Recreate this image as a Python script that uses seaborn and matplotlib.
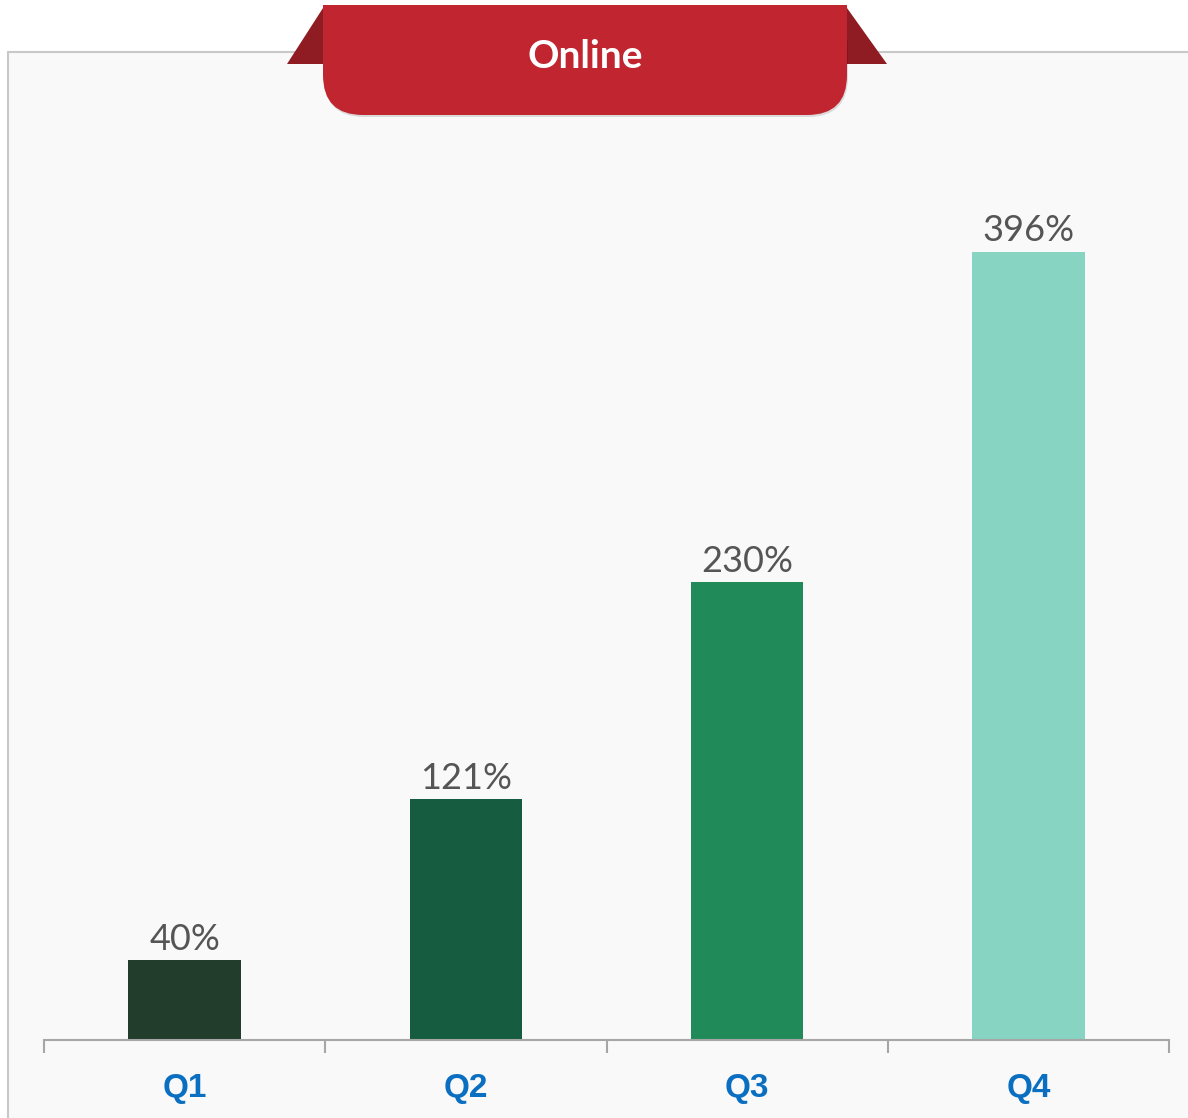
import matplotlib
matplotlib.use("Agg")
import matplotlib.pyplot as plt
import seaborn as sns
from matplotlib.patches import Rectangle, FancyBboxPatch, Polygon

# data
quarters = ["Q1", "Q2", "Q3", "Q4"]
growth = [40, 121, 230, 396]
bar_colors = ["#223d2b", "#165c41", "#208b58", "#87d4c3"]
title = "Online"

W, H = 1188, 1118
sns.set_theme(style="white")
plt.rcParams["font.family"] = ["Lato", "DejaVu Sans"]

fig = plt.figure(figsize=(W / 100, H / 100), dpi=100)
fig.patch.set_facecolor("white")

# decoration layer in pixel coordinates
deco = fig.add_axes([0, 0, 1, 1], zorder=0)
deco.set_xlim(0, W)
deco.set_ylim(H, 0)
deco.axis("off")

# light panel behind the chart
deco.add_patch(Rectangle((8, 52), W, H, facecolor="#f9f9f9",
                         edgecolor="#c8c8c8", linewidth=1.5))

# main bar chart
ax = fig.add_axes([44 / W, (H - 1040) / H, (1169 - 44) / W, 896 / H], zorder=1)
ax.set_facecolor("none")
sns.barplot(x=quarters, y=growth, hue=quarters, palette=bar_colors,
            legend=False, width=0.4, saturation=1, linewidth=0, ax=ax)
ax.set_xlim(-0.5, 3.5)
ax.set_ylim(0, 450)
for cont, val in zip(ax.containers, growth):
    ax.bar_label(cont, labels=[f"{val}%"], padding=3, fontsize=26,
                 color="#555555")

for side in ["top", "right", "left"]:
    ax.spines[side].set_visible(False)
ax.spines["bottom"].set_color("#a6a6a6")
ax.spines["bottom"].set_linewidth(1.5)
ax.set_yticks([])
ax.set_xticks([-0.5, 0.5, 1.5, 2.5, 3.5])
ax.set_xticklabels([])
ax.tick_params(axis="x", which="major", length=9, width=1.5, color="#a6a6a6",
               direction="out", bottom=True)
ax.set_xticks(range(len(quarters)), minor=True)
ax.set_xticklabels(quarters, minor=True, fontsize=24, fontweight="bold",
                   color="#0b6fc1", family=["Liberation Sans", "DejaVu Sans"])
ax.tick_params(axis="x", which="minor", length=0, pad=24)
ax.set_xlabel("")
ax.set_ylabel("")

# title ribbon on top
top = fig.add_axes([0, 0, 1, 1], zorder=2)
top.set_xlim(0, W)
top.set_ylim(H, 0)
top.axis("off")
top.patch.set_alpha(0)
top.add_patch(Polygon([(287, 64), (323, 8), (323, 64)], closed=True,
                      facecolor="#8e1c22", edgecolor="none"))
top.add_patch(Polygon([(887, 64), (847, 8), (847, 64)], closed=True,
                      facecolor="#8e1c22", edgecolor="none"))
# soft shadow
top.add_patch(FancyBboxPatch((324, 7), 524, 110, boxstyle="round,pad=0,rounding_size=40",
                             facecolor="#000000", alpha=0.12, edgecolor="none"))
top.add_patch(FancyBboxPatch((323, 5), 524, 110, boxstyle="round,pad=0,rounding_size=40",
                             facecolor="#c1252f", edgecolor="none"))
top.add_patch(Rectangle((323, 5), 524, 50, facecolor="#c1252f", edgecolor="none"))
top.text(585, 57, title, ha="center", va="center", fontsize=28,
         fontweight="bold", color="white")

fig.savefig("out.png", dpi=100)
